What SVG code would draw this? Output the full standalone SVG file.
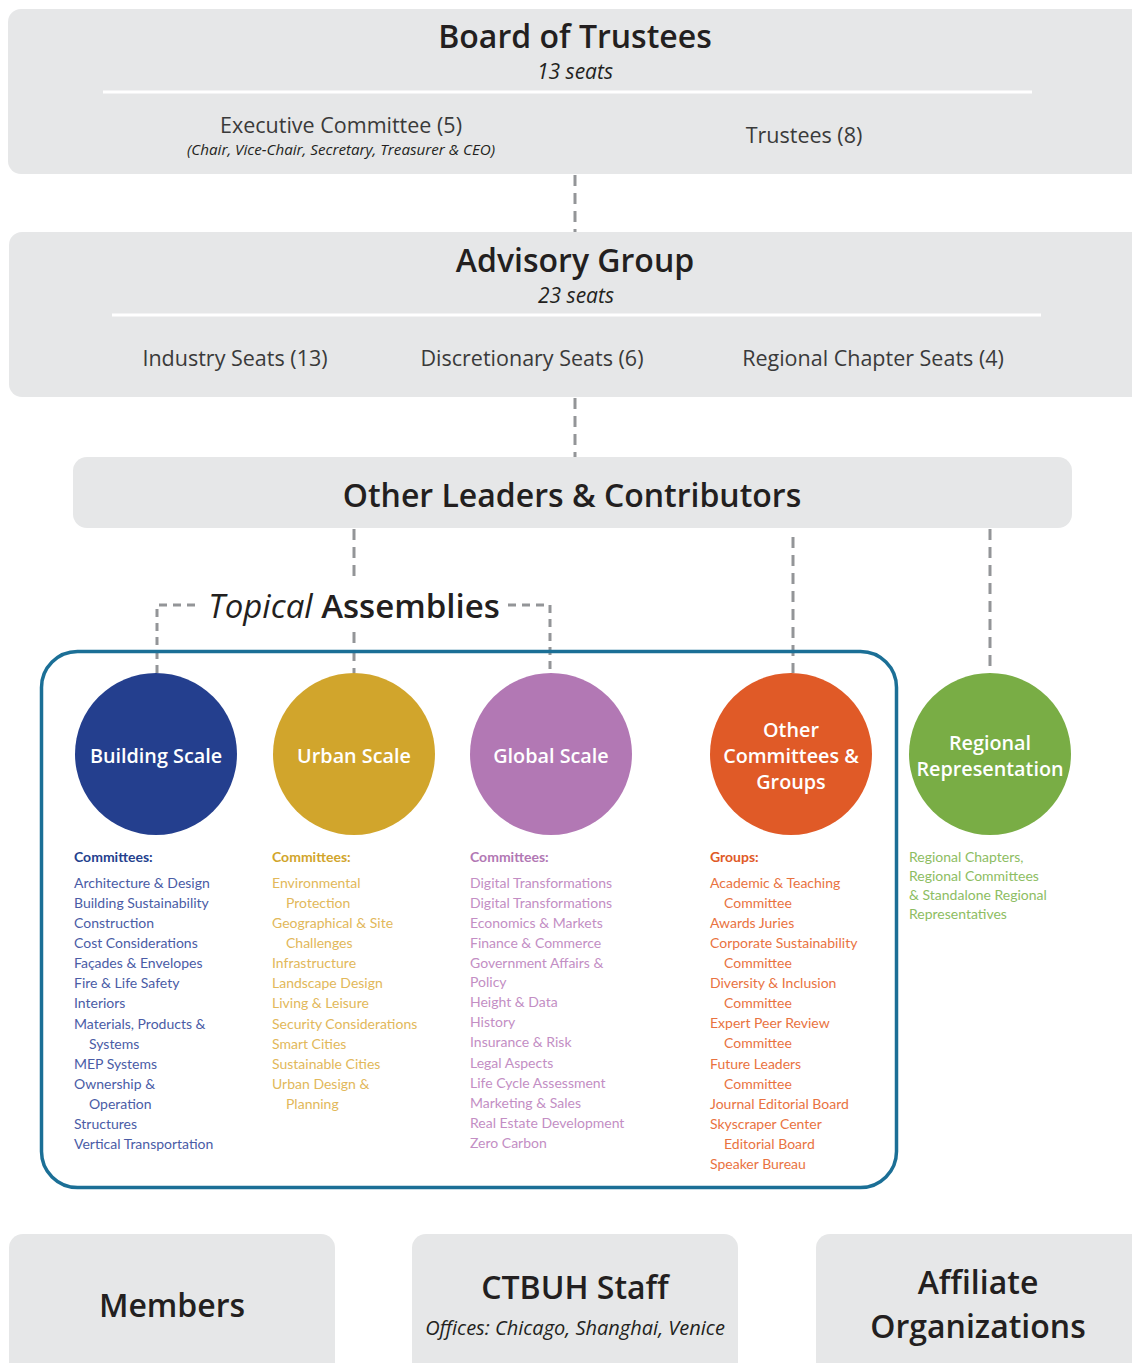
<svg xmlns="http://www.w3.org/2000/svg" width="1132" height="1363" viewBox="0 0 1132 1363">
<style>
.box{fill:#e6e7e8}
.t{font-family:"Open Sans",Lato,sans-serif;fill:#231f20;text-anchor:middle}
.h1{font-size:32px;font-weight:600}
.sub{font-size:21px;font-style:italic}
.seat{font-size:21.5px;fill:#3a3a3a}
.conn{stroke:#939598;stroke-width:3;fill:none;stroke-dasharray:11 7}
.br{stroke:#939598;stroke-width:3;fill:none;stroke-dasharray:8 6}
.ct{font-family:"Open Sans",Lato,sans-serif;fill:#fff;font-weight:600;font-size:19.8px;text-anchor:middle}
.li{font-family:Lato,"Open Sans",sans-serif;font-size:14px}
.hd{font-weight:bold}
.b{fill:#4a5ca6}.bh{fill:#243f8e}
.u{fill:#e2b85a}.uh{fill:#d1a52c}
.g{fill:#c38ec4}.gh{fill:#b278b4}
.o{fill:#e9733f}.oh{fill:#e05a27}
.r{fill:#8dbd62}
</style>
<g id="connectors">
<line class="conn" x1="575" y1="175" x2="575" y2="232"/>
<line class="conn" x1="575" y1="398" x2="575" y2="457"/>
<line class="conn" x1="354" y1="529" x2="354" y2="580"/>
<line class="conn" x1="354" y1="632" x2="354" y2="673"/>
<path class="br" d="M157 673 V605 H200"/>
<path class="br" d="M508 605 H550 V673"/>
<line class="conn" x1="793" y1="537" x2="793" y2="673"/>
<line class="conn" x1="990" y1="529" x2="990" y2="673"/>
</g>
<g id="board">
<rect class="box" x="8" y="9" width="1140" height="165" rx="13"/>
<text class="t h1" x="575" y="48">Board of Trustees</text>
<text class="t sub" x="575" y="79">13 seats</text>
<line x1="103" y1="92" x2="1032" y2="92" stroke="#fff" stroke-width="3"/>
<text class="t seat" x="341" y="133" font-size="21">Executive Committee (5)</text>
<text class="t" x="341" y="155" font-size="15.2" font-style="italic">(Chair, Vice-Chair, Secretary, Treasurer &amp; CEO)</text>
<text class="t seat" x="804" y="143">Trustees (8)</text>
</g>
<g id="advisory">
<rect class="box" x="9" y="232" width="1140" height="165" rx="13"/>
<text class="t h1" x="575" y="272">Advisory Group</text>
<text class="t sub" x="576" y="303">23 seats</text>
<line x1="112" y1="315" x2="1041" y2="315" stroke="#fff" stroke-width="3"/>
<text class="t seat" x="235" y="366">Industry Seats (13)</text>
<text class="t seat" x="532" y="366">Discretionary Seats (6)</text>
<text class="t seat" x="873" y="366">Regional Chapter Seats (4)</text>
</g>
<g id="other-leaders">
<rect class="box" x="73" y="457" width="999" height="71" rx="14"/>
<text class="t h1" x="572" y="507">Other Leaders &amp; Contributors</text>
</g>
<g id="topical-assemblies">
<text class="t" x="354" y="618" font-size="33"><tspan font-style="italic">Topical</tspan> <tspan font-weight="600">Assemblies</tspan></text>
<rect x="41.5" y="651.5" width="855" height="536" rx="36" fill="none" stroke="#1b6f96" stroke-width="3.5"/>
</g>
<g id="building-scale">
<circle cx="156" cy="754" r="81" fill="#243f8e"/>
<text class="ct" x="156" y="763">Building Scale</text>
<g class="li">
<text class="hd bh" x="74" y="862">Committees:</text>
<text class="b" x="74" y="888">Architecture &amp; Design</text>
<text class="b" x="74" y="908">Building Sustainability</text>
<text class="b" x="74" y="928">Construction</text>
<text class="b" x="74" y="948">Cost Considerations</text>
<text class="b" x="74" y="968">Façades &amp; Envelopes</text>
<text class="b" x="74" y="988">Fire &amp; Life Safety</text>
<text class="b" x="74" y="1008">Interiors</text>
<text class="b" x="74" y="1029">Materials, Products &amp;</text>
<text class="b" x="89" y="1049">Systems</text>
<text class="b" x="74" y="1069">MEP Systems</text>
<text class="b" x="74" y="1089">Ownership &amp;</text>
<text class="b" x="89" y="1109">Operation</text>
<text class="b" x="74" y="1129">Structures</text>
<text class="b" x="74" y="1149">Vertical Transportation</text>
</g>
</g>
<g id="urban-scale">
<circle cx="354" cy="754" r="81" fill="#d1a52c"/>
<text class="ct" x="354" y="763">Urban Scale</text>
<g class="li">
<text class="hd uh" x="272" y="862">Committees:</text>
<text class="u" x="272" y="888">Environmental</text>
<text class="u" x="286" y="908">Protection</text>
<text class="u" x="272" y="928">Geographical &amp; Site</text>
<text class="u" x="286" y="948">Challenges</text>
<text class="u" x="272" y="968">Infrastructure</text>
<text class="u" x="272" y="988">Landscape Design</text>
<text class="u" x="272" y="1008">Living &amp; Leisure</text>
<text class="u" x="272" y="1029">Security Considerations</text>
<text class="u" x="272" y="1049">Smart Cities</text>
<text class="u" x="272" y="1069">Sustainable Cities</text>
<text class="u" x="272" y="1089">Urban Design &amp;</text>
<text class="u" x="286" y="1109">Planning</text>
</g>
</g>
<g id="global-scale">
<circle cx="551" cy="754" r="81" fill="#b278b4"/>
<text class="ct" x="551" y="763">Global Scale</text>
<g class="li">
<text class="hd gh" x="470" y="862">Committees:</text>
<text class="g" x="470" y="888">Digital Transformations</text>
<text class="g" x="470" y="908">Digital Transformations</text>
<text class="g" x="470" y="928">Economics &amp; Markets</text>
<text class="g" x="470" y="948">Finance &amp; Commerce</text>
<text class="g" x="470" y="968">Government Affairs &amp;</text>
<text class="g" x="470" y="987">Policy</text>
<text class="g" x="470" y="1007">Height &amp; Data</text>
<text class="g" x="470" y="1027">History</text>
<text class="g" x="470" y="1047">Insurance &amp; Risk</text>
<text class="g" x="470" y="1068">Legal Aspects</text>
<text class="g" x="470" y="1088">Life Cycle Assessment</text>
<text class="g" x="470" y="1108">Marketing &amp; Sales</text>
<text class="g" x="470" y="1128">Real Estate Development</text>
<text class="g" x="470" y="1148">Zero Carbon</text>
</g>
</g>
<g id="other-committees">
<circle cx="791" cy="754" r="81" fill="#e05a27"/>
<text class="ct" x="791" y="737">Other</text>
<text class="ct" x="791" y="763">Committees &amp;</text>
<text class="ct" x="791" y="789">Groups</text>
<g class="li">
<text class="hd oh" x="710" y="862">Groups:</text>
<text class="o" x="710" y="888">Academic &amp; Teaching</text>
<text class="o" x="724" y="908">Committee</text>
<text class="o" x="710" y="928">Awards Juries</text>
<text class="o" x="710" y="948">Corporate Sustainability</text>
<text class="o" x="724" y="968">Committee</text>
<text class="o" x="710" y="988">Diversity &amp; Inclusion</text>
<text class="o" x="724" y="1008">Committee</text>
<text class="o" x="710" y="1028">Expert Peer Review</text>
<text class="o" x="724" y="1048">Committee</text>
<text class="o" x="710" y="1069">Future Leaders</text>
<text class="o" x="724" y="1089">Committee</text>
<text class="o" x="710" y="1109">Journal Editorial Board</text>
<text class="o" x="710" y="1129">Skyscraper Center</text>
<text class="o" x="724" y="1149">Editorial Board</text>
<text class="o" x="710" y="1169">Speaker Bureau</text>
</g>
</g>
<g id="regional-representation">
<circle cx="990" cy="754" r="81" fill="#79ad45"/>
<text class="ct" x="990" y="750" font-size="19.5">Regional</text>
<text class="ct" x="990" y="776" font-size="19.5">Representation</text>
<g class="li r">
<text x="909" y="862">Regional Chapters,</text>
<text x="909" y="881">Regional Committees</text>
<text x="909" y="900">&amp; Standalone Regional</text>
<text x="909" y="919">Representatives</text>
</g>
</g>
<g id="members">
<rect class="box" x="9" y="1234" width="326" height="150" rx="14"/>
<text class="t h1" x="172" y="1317">Members</text>
</g>
<g id="ctbuh-staff">
<rect class="box" x="412" y="1234" width="326" height="150" rx="14"/>
<text class="t h1" x="575" y="1299" font-size="33">CTBUH Staff</text>
<text class="t" x="575" y="1335" font-size="20" font-style="italic">Offices: Chicago, Shanghai, Venice</text>
</g>
<g id="affiliate-organizations">
<rect class="box" x="816" y="1234" width="340" height="150" rx="14"/>
<text class="t h1" x="978" y="1294">Affiliate</text>
<text class="t h1" x="978" y="1338">Organizations</text>
</g>
</svg>
